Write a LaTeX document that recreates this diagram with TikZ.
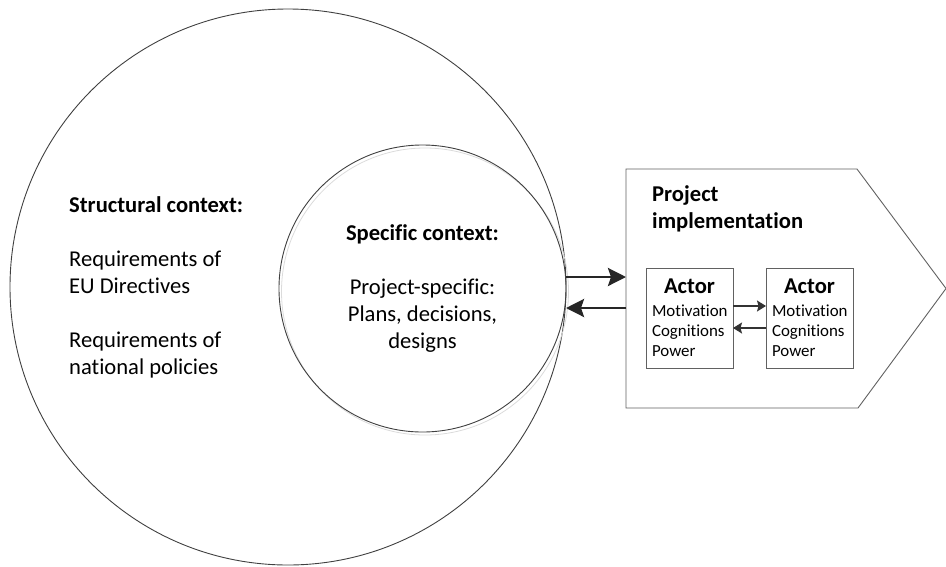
\documentclass[tikz,border=0pt]{standalone}
\usepackage{fontspec}
\setmainfont{Carlito}[Ligatures={NoCommon, NoContextual}]
\usetikzlibrary{arrows, arrows.meta, calc, positioning}
\definecolor{ringgrey}{rgb}{0.25, 0.25, 0.25}
\definecolor{boxgrey}{rgb}{0.38, 0.38, 0.38}
\definecolor{shadegrey}{rgb}{0.86, 0.86, 0.86}

\begin{document}
\begin{tikzpicture}[x=1pt, y=-1pt,
                    bigfont/.style={font=\fontsize{22.6}{27}\selectfont, inner sep=0pt},
                    smallfont/.style={font=\fontsize{16.9}{20}\selectfont},
                    ring/.style={draw=ringgrey, circle, line width=0.9pt, inner sep=0pt, outer sep=0pt},
                    actorbox/.style={draw=boxgrey, line width=0.8pt, minimum width=87pt, minimum height=100pt,
                        text width=75pt, inner sep=0pt, outer sep=0pt, align=left, smallfont},
                    fatarrow/.style={line width=2.8pt, draw=black!85, -{Stealth[length=18pt, width=18pt, inset=3pt]}},
                    thinarrow/.style={line width=1.4pt, draw=black!80, -{Stealth[length=9pt, width=11pt, inset=1.5pt]}}]
                    \useasboundingbox (0, 0) rectangle (946, 566);

                    \node[ring, minimum size=556pt] (struct) at (288, 287) {};
                    \draw[shadegrey, line width=0.8pt] (425, 291.5) circle [radius=143.5pt];
                    \node[ring, minimum size=287pt] (spec) at (422.5, 288.5) {};

                    \node[bigfont, align=left, anchor=west] (structtext) at (69, 287.5)
                        {\textbf{Structural context:}\\[27pt] Requirements of\\ EU Directives\\[27pt] Requirements of\\ national policies};
                    \node[bigfont, align=center] (spectext) at (422.5, 289)
                        {\textbf{Specific context:}\\[27pt] Project-specific:\\ Plans, decisions,\\ designs};

                    \node[minimum width=320pt, minimum height=239pt, inner sep=0pt, outer sep=0pt] (impl) at (786, 288.5) {};
                    \draw[boxgrey, line width=0.9pt] (impl.north west) -- ++(231, 0) -- (impl.east)
                        -- ($(impl.south west)+(232, 0)$) -- (impl.south west) -- cycle;
                    \node[bigfont, align=left, anchor=west] (impltitle) at (652, 208.5)
                        {\textbf{Project}\\ \textbf{implementation}};

                    \node[actorbox] (actA) at (689.5, 318)
                        {\makebox[75pt]{\bfseries\fontsize{22.6}{27}\selectfont Actor}\\[3pt] Motivation\\ Cognitions\\ Power};
                    \node[actorbox] (actB) at (809.5, 318)
                        {\makebox[75pt]{\bfseries\fontsize{22.6}{27}\selectfont Actor}\\[3pt] Motivation\\ Cognitions\\ Power};

                    \draw[fatarrow] ([yshift=11.5pt]spec.east) -- ([yshift=11.5pt]impl.west);
                    \draw[fatarrow] ([yshift=-19.5pt]impl.west) -- ([yshift=-19.5pt]spec.east);
                    \draw[thinarrow] ([yshift=12pt]actA.east) -- ([yshift=12pt]actB.west);
                    \draw[thinarrow] ([yshift=-10pt]actB.west) -- ([yshift=-10pt]actA.east);
            \end{tikzpicture}
\end{document}
